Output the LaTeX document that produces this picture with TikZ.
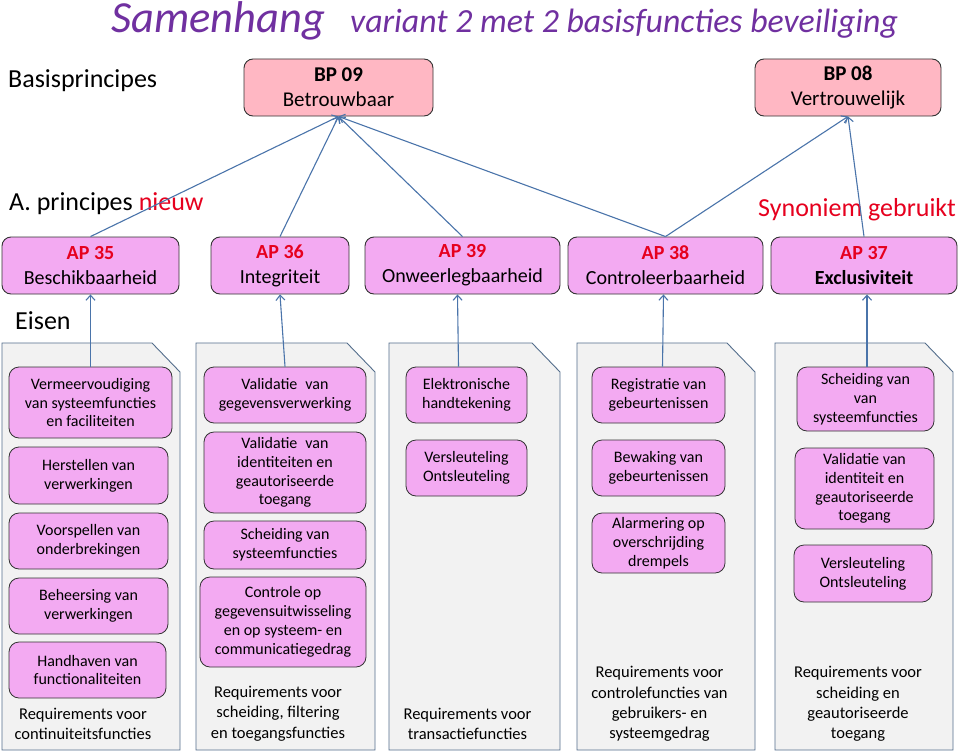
\documentclass[tikz,border=0pt]{standalone}
\usepackage{fontspec}
\setmainfont{Carlito}
\usetikzlibrary{arrows.meta}

\definecolor{titlepurple}{RGB}{112,48,160}
\definecolor{bppink}{RGB}{255,183,195}
\definecolor{apviolet}{RGB}{243,170,242}
\definecolor{apred}{RGB}{230,0,30}
\definecolor{linkblue}{RGB}{74,116,170}
\definecolor{docfill}{RGB}{242,242,242}
\definecolor{docline}{RGB}{84,110,140}

\tikzset{
  bpbox/.style={draw=black!80, line width=0.9pt, fill=bppink, rounded corners=9pt, align=center, inner sep=0pt, font=\fontsize{21}{25}\selectfont},
  apbox/.style={draw=black!80, line width=0.9pt, fill=apviolet, rounded corners=9pt, align=center, inner sep=0pt, font=\fontsize{20}{25}\selectfont},
  eisbox/.style={draw=black!80, line width=0.8pt, fill=apviolet, rounded corners=10pt, align=center, inner sep=0pt, font=\fontsize{16}{18.8}\selectfont},
  reqtext/.style={align=center, inner sep=0pt, font=\fontsize{16.5}{20.3}\selectfont},
  lbl/.style={anchor=base west, inner sep=0pt, font=\fontsize{26}{30}\selectfont},
  docshape/.style={draw=docline, line width=0.9pt, fill=docfill},
  link/.style={draw=linkblue, line width=1.1pt, -{Straight Barb[length=5pt,width=9pt]}}
}
\def\eisdoc(#1:#2){\draw[docshape] (#1,343) -- (#2-28,343) -- (#2,372) -- (#2,750) -- (#1,750) -- cycle;}
\newcommand{\apkop}[1]{\textbf{\color{apred}#1}}

\begin{document}
\begin{tikzpicture}[x=1pt, y=-1pt]
	%%%%% START %%%%%
	\fill[white] (0,0) rectangle (960,752);
	\useasboundingbox (0,0) rectangle (960,752);
	
	\node[anchor=base west, inner sep=0pt, text=titlepurple, font=\fontsize{44.5}{50}\selectfont\itshape] (titel) at (111,33) {Samenhang};
	\node[anchor=base west, inner sep=0pt, text=titlepurple, font=\fontsize{33.8}{38}\selectfont\itshape] (subtitel) at (350,33) {variant 2 met 2 basisfuncties beveiliging};
	
	\node[lbl] (basis) at (8,87) {Basisprincipes};
	\node[lbl] (principes) at (9,210) {A. principes \textcolor{apred}{nieuw}};
	\node[lbl, text=apred] (synoniem) at (758,216) {Synoniem gebruikt};
	\node[lbl] (eisen) at (15,329) {Eisen};
	
	% basisprincipes
	\node[bpbox, minimum width=189pt, minimum height=57pt] (bp09) at (338.5,87.5) {\textbf{BP 09}\\Betrouwbaar};
	\node[bpbox, minimum width=186pt, minimum height=57pt] (bp08) at (848,87.5) {\textbf{BP 08}\\Vertrouwelijk};
	
	% afgeleide principes
	\node[apbox, minimum width=177pt, minimum height=57pt] (ap35) at (90.5,265.5) {\apkop{AP 35}\\Beschikbaarheid};
	\node[apbox, minimum width=138pt, minimum height=57pt] (ap36) at (280,265.5) {\apkop{AP 36}\\Integriteit};
	\node[apbox, minimum width=195pt, minimum height=57pt] (ap39) at (462.5,265.5) {\apkop{AP 39}\\Onweerlegbaarheid};
	\node[apbox, minimum width=195pt, minimum height=57pt] (ap38) at (665.5,265.5) {\apkop{AP 38}\\Controleerbaarheid};
	\node[apbox, minimum width=186pt, minimum height=57pt] (ap37) at (864,265.5) {\apkop{AP 37}\\\textbf{Exclusiviteit}};
	
	\draw[link] (ap35.north) -- (bp09.south);
	\draw[link] (ap36.north) -- (bp09.south);
	\draw[link] (ap39.north) -- (bp09.south);
	\draw[link] (ap38.north) -- (bp09.south);
	\draw[link] (ap38.north) -- (bp08.south);
	\draw[link] (ap37.north) -- (bp08.south);
	
	% eisen
	\eisdoc(2:180)
	\eisdoc(196:375)
	\eisdoc(389:560)
	\eisdoc(577:755)
	\eisdoc(775:953)
	
	\node[eisbox, minimum width=163pt, minimum height=71pt] (e11) at (90.5,402.5) {Vermeervoudiging\\van systeemfuncties\\en faciliteiten};
	\node[eisbox, minimum width=159pt, minimum height=57pt] (e12) at (88.5,475.5) {Herstellen van\\verwerkingen};
	\node[eisbox, minimum width=159pt, minimum height=56pt] (e13) at (88.5,541) {Voorspellen van\\onderbrekingen};
	\node[eisbox, minimum width=159pt, minimum height=56pt] (e14) at (88.5,606) {Beheersing van\\verwerkingen};
	\node[eisbox, minimum width=157pt, minimum height=56pt] (e15) at (87.5,670) {Handhaven van\\functionaliteiten};
	\node[reqtext] (req1) at (83,724) {Requirements voor\\continuiteitsfuncties};
	
	\node[eisbox, minimum width=162pt, minimum height=56pt] (e21) at (285,395) {Validatie\enspace van\\gegevensverwerking};
	\node[eisbox, minimum width=162pt, minimum height=81pt] (e22) at (285,472.5) {Validatie\enspace van\\identiteiten en\\geautoriseerde\\toegang};
	\node[eisbox, minimum width=162pt, minimum height=48pt] (e23) at (285,545) {Scheiding van\\systeemfuncties};
	\node[eisbox, minimum width=166pt, minimum height=90pt] (e24) at (283,622) {Controle op\\gegevensuitwisseling\\en op systeem- en\\communicatiegedrag};
	\node[reqtext] (req2) at (278,713.5) {Requirements voor\\scheiding, filtering\\en toegangsfuncties};
	
	\node[eisbox, minimum width=121pt, minimum height=56pt] (e31) at (466.5,395) {Elektronische\\handtekening};
	\node[eisbox, minimum width=121pt, minimum height=56pt] (e32) at (466.5,468) {Versleuteling\\Ontsleuteling};
	\node[reqtext] (req3) at (467.5,724) {Requirements voor\\transactiefuncties};
	
	\node[eisbox, minimum width=133pt, minimum height=56pt] (e41) at (658.5,395) {Registratie van\\gebeurtenissen};
	\node[eisbox, minimum width=133pt, minimum height=56pt] (e42) at (658.5,468) {Bewaking van\\gebeurtenissen};
	\node[eisbox, minimum width=133pt, minimum height=60pt] (e43) at (658.5,543) {Alarmering op\\overschrijding\\drempels};
	\node[reqtext] (req4) at (659.5,704) {Requirements voor\\controlefuncties van\\gebruikers- en\\systeemgedrag};
	
	\node[eisbox, minimum width=137pt, minimum height=64pt] (e51) at (865.5,399) {Scheiding van\\van\\systeemfuncties};
	\node[eisbox, minimum width=139pt, minimum height=81pt] (e52) at (864.5,488.5) {Validatie van\\identiteit en\\geautoriseerde\\toegang};
	\node[eisbox, minimum width=138pt, minimum height=57pt] (e53) at (863,573.5) {Versleuteling\\Ontsleuteling};
	\node[reqtext] (req5) at (858,704) {Requirements voor\\scheiding en\\geautoriseerde\\toegang};
	
	\draw[link] (e11.north) -- (ap35.south);
	\draw[link] (e21.north) -- (ap36.south);
	\draw[link] ([xshift=-8pt]e31.north) -- ([xshift=-5pt]ap39.south);
	\draw[link] ([xshift=4pt]e41.north) -- ([xshift=-2pt]ap38.south);
	\draw[link] ([xshift=1.5pt]e51.north) -- ([xshift=3pt]ap37.south);
	%%%%% END %%%%%
\end{tikzpicture}
\end{document}
